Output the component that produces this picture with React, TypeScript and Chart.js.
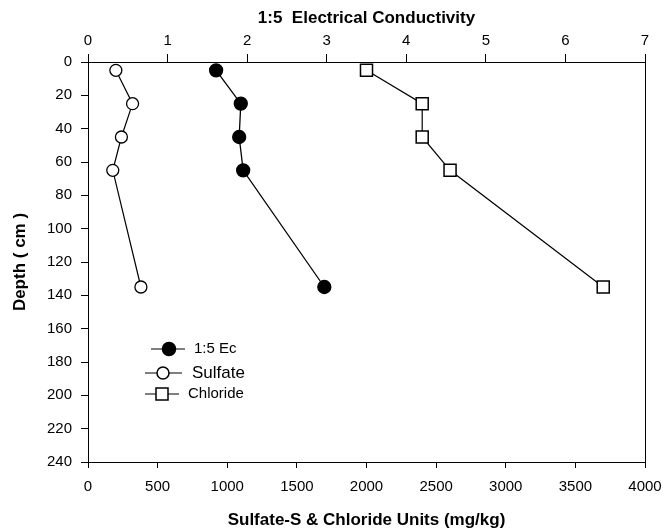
import React, { useEffect, useRef } from "react";
import { Chart, registerables } from "chart.js";

Chart.register(...registerables);

const depths = [5, 25, 45, 65, 135];
const ecValues = [1.61, 1.92, 1.9, 1.95, 2.97];
const sulfateValues = [200, 320, 240, 178, 380];
const chlorideValues = [2000, 2400, 2400, 2600, 3700];
const yTicks = [0, 20, 40, 60, 80, 100, 120, 140, 160, 180, 200, 220, 240];

const FONT = "'Liberation Sans', Arial, sans-serif";

const frameAndLegend = {
  id: "frameAndLegend",
  afterDatasetsDraw(chart: any) {
    const { ctx, chartArea } = chart;
    ctx.save();
    // right frame line
    ctx.strokeStyle = "#000";
    ctx.lineWidth = 1;
    ctx.beginPath();
    ctx.moveTo(chartArea.right + 0.5, chartArea.top);
    ctx.lineTo(chartArea.right + 0.5, chartArea.bottom);
    ctx.stroke();

    const L = chartArea.left;
    const T = chartArea.top;
    const items = [
      { label: "1:5 Ec", x1: 63, x2: 97, y: 287, mx: 81, tx: 106, fill: "#000", style: "circle", r: 6.5, size: 15 },
      { label: "Sulfate", x1: 57, x2: 94, y: 311, mx: 75, tx: 104, fill: "#fff", style: "circle", r: 6, size: 17 },
      { label: "Chloride", x1: 57, x2: 91, y: 332, mx: 74, tx: 100, fill: "#fff", style: "rect", r: 6, size: 15 },
    ];
    for (const it of items) {
      ctx.strokeStyle = "#000";
      ctx.lineWidth = 1.2;
      ctx.beginPath();
      ctx.moveTo(L + it.x1, T + it.y);
      ctx.lineTo(L + it.x2, T + it.y);
      ctx.stroke();
      ctx.fillStyle = it.fill;
      ctx.lineWidth = 1.5;
      ctx.beginPath();
      if (it.style === "circle") {
        ctx.arc(L + it.mx, T + it.y, it.r, 0, Math.PI * 2);
      } else {
        ctx.rect(L + it.mx - it.r, T + it.y - it.r, it.r * 2, it.r * 2);
      }
      ctx.fill();
      ctx.stroke();
      ctx.fillStyle = "#000";
      ctx.font = `${it.size}px ${FONT}`;
      ctx.textAlign = "left";
      ctx.textBaseline = "middle";
      ctx.fillText(it.label, L + it.tx, T + it.y);
    }
    ctx.restore();
  },
};

export default function App() {
  const ref = useRef<HTMLCanvasElement>(null);
  useEffect(() => {
    document.body.style.margin = "0";
    const ec = depths.map((d, i) => ({ x: ecValues[i], y: d }));
    const su = depths.map((d, i) => ({ x: sulfateValues[i], y: d }));
    const cl = depths.map((d, i) => ({ x: chlorideValues[i], y: d }));
    const tickFont = { family: FONT, size: 15 };
    const titleFont = { family: FONT, size: 17, weight: "bold" };
    const grid = (len: number) => ({ drawOnChartArea: false, drawTicks: true, tickLength: len, color: "#000" });
    const noPad = (s: any) => {
      s.paddingLeft = 0;
      s.paddingRight = 0;
      s.paddingTop = 0;
      s.paddingBottom = 0;
    };
    const chart = new Chart(ref.current!, {
      type: "scatter",
      data: {
        datasets: [
          {
            label: "1:5 Ec",
            data: ec,
            xAxisID: "xTop",
            showLine: true,
            borderColor: "#000",
            borderWidth: 1.3,
            pointBackgroundColor: "#000",
            pointBorderColor: "#000",
            pointRadius: 6.5,
            pointStyle: "circle",
          },
          {
            label: "Sulfate",
            data: su,
            xAxisID: "x",
            showLine: true,
            borderColor: "#000",
            borderWidth: 1.2,
            pointBackgroundColor: "#fff",
            pointBorderColor: "#000",
            pointBorderWidth: 1.3,
            pointRadius: 6,
            pointStyle: "circle",
          },
          {
            label: "Chloride",
            data: cl,
            xAxisID: "x",
            showLine: true,
            borderColor: "#000",
            borderWidth: 1.2,
            pointBackgroundColor: "#fff",
            pointBorderColor: "#000",
            pointBorderWidth: 1.5,
            pointRadius: 8.5,
            pointStyle: "rect",
          },
        ],
      },
      options: {
        animation: false,
        responsive: false,
        layout: { padding: { left: 0, right: 18, top: 0, bottom: 0 } },
        plugins: { legend: { display: false }, tooltip: { enabled: false } },
        scales: {
          x: {
            type: "linear",
            position: "bottom",
            min: 0,
            max: 4000,
            ticks: {
              color: "#000",
              font: tickFont,
              stepSize: 500,
              padding: 10,
              callback: (v: any) => String(v),
            },
            grid: grid(6),
            border: { color: "#000", width: 1 },
            title: {
              display: true,
              text: "Sulfate-S & Chloride Units (mg/kg)",
              color: "#000",
              font: titleFont,
              padding: { top: 0, bottom: 0 },
            },
            afterFit(s: any) {
              s.height = 69;
              noPad(s);
            },
          },
          xTop: {
            type: "linear",
            position: "top",
            min: 0,
            max: 7,
            ticks: { color: "#000", font: tickFont, stepSize: 1, padding: 4 },
            grid: grid(8),
            border: { color: "#000", width: 1 },
            title: {
              display: true,
              text: "1:5  Electrical Conductivity",
              color: "#000",
              font: titleFont,
              padding: { top: 8, bottom: 0 },
            },
            afterFit(s: any) {
              s.height = 62;
              noPad(s);
            },
          },
          y: {
            type: "linear",
            reverse: true,
            min: 0,
            max: 240,
            afterBuildTicks(s: any) {
              s.ticks = yTicks.map((v) => ({ value: v }));
            },
            ticks: { color: "#000", font: tickFont, padding: 9 },
            grid: grid(7),
            border: { color: "#000", width: 1 },
            title: {
              display: true,
              text: "Depth ( cm )",
              color: "#000",
              font: titleFont,
              padding: { top: 10, bottom: 0 },
            },
            afterFit(s: any) {
              s.width = 88;
              noPad(s);
            },
          },
        },
      },
      plugins: [frameAndLegend],
    } as any);
    return () => chart.destroy();
  }, []);
  return (
    <div style={{ width: 663, height: 531, background: "#fff" }}>
      <canvas ref={ref} width={663} height={531} style={{ display: "block" }} />
    </div>
  );
}
